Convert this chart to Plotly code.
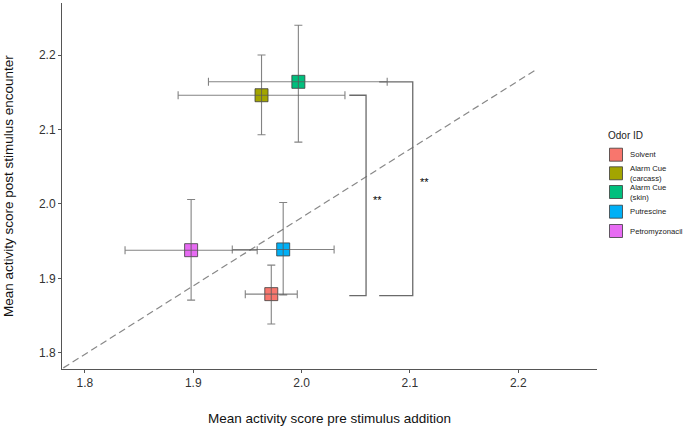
import plotly.graph_objects as go

# ---- data ----
odor_names = ["Solvent", "Alarm Cue (carcass)", "Alarm Cue (skin)", "Putrescine", "Petromyzonacil"]
legend_labels = ["Solvent", "Alarm Cue<br>(carcass)", "Alarm Cue<br>(skin)", "Putrescine", "Petromyzonacil"]
colors = ["#F8766D", "#A3A500", "#00BF7D", "#00B0F6", "#E76BF3"]
pre_mean = [1.972, 1.963, 1.997, 1.983, 1.898]
post_mean = [1.879, 2.146, 2.164, 1.939, 1.938]
pre_lo = [1.948, 1.886, 1.914, 1.936, 1.837]
pre_hi = [1.996, 2.040, 2.079, 2.030, 1.959]
post_lo = [1.839, 2.093, 2.083, 1.878, 1.871]
post_hi = [1.918, 2.200, 2.240, 2.002, 2.006]

diag_x = [1.780, 2.216]
diag_y = [1.780, 2.180]

tick_vals = [1.8, 1.9, 2.0, 2.1, 2.2]
tick_text = ["1.8", "1.9", "2.0", "2.1", "2.2"]

# significance brackets: x_left, x_right, y_top, y_bottom, label x, label y
brackets = [
    dict(x0=2.044, x1=2.0595, ytop=2.146, ybot=1.877, lx=2.0705, ly=2.0055, text="**"),
    dict(x0=2.0716, x1=2.1026, ytop=2.164, ybot=1.877, lx=2.1135, ly=2.0297, text="**"),
]

W, H = 685, 429
L, R, T, B = 62, 88, 3, 60
xr = [1.7788, 2.2727]
yr = [1.7785, 2.2698]

fig = go.Figure()

# diagonal dashed reference line
fig.add_trace(go.Scatter(x=diag_x, y=diag_y, mode="lines",
                         line=dict(color="#888888", width=1.2, dash="7px,4px"),
                         showlegend=False, hoverinfo="skip"))

# markers
for i, n in enumerate(odor_names):
    fig.add_trace(go.Scatter(
        x=[pre_mean[i]], y=[post_mean[i]], mode="markers",
        marker=dict(symbol="square", size=13, color=colors[i],
                    line=dict(color="rgba(60,60,60,0.8)", width=1)),
        name=n, showlegend=False))

# error bars drawn on top of markers
for i, n in enumerate(odor_names):
    fig.add_trace(go.Scatter(
        x=[pre_mean[i]], y=[post_mean[i]], mode="markers",
        marker=dict(size=1, opacity=0),
        error_x=dict(type="data", symmetric=False,
                     array=[pre_hi[i] - pre_mean[i]],
                     arrayminus=[pre_mean[i] - pre_lo[i]],
                     color="rgba(90,90,90,0.75)", thickness=1.1, width=4),
        error_y=dict(type="data", symmetric=False,
                     array=[post_hi[i] - post_mean[i]],
                     arrayminus=[post_mean[i] - post_lo[i]],
                     color="rgba(90,90,90,0.75)", thickness=1.1, width=4),
        showlegend=False, hoverinfo="skip"))

shapes = []
annotations = []
for b in brackets:
    path = (f"M {b['x0']},{b['ytop']} L {b['x1']},{b['ytop']} "
            f"L {b['x1']},{b['ybot']} L {b['x0']},{b['ybot']}")
    shapes.append(dict(type="path", path=path, xref="x", yref="y",
                       line=dict(color="#6a6a6a", width=1.3)))
    annotations.append(dict(x=b["lx"], y=b["ly"], xref="x", yref="y", text=b["text"],
                            showarrow=False, font=dict(size=11, color="#000000",
                                                       family="Liberation Sans, Arial")))

# manual legend (pixel positions converted to paper coords)
pw, ph = W - L - R, H - T - B
def px(xp):
    return (xp - L) / pw
def py(yp):
    return (H - B - yp) / ph

annotations.append(dict(x=px(606), y=py(136), xref="paper", yref="paper", text="Odor ID",
                        xanchor="left", yanchor="middle", showarrow=False,
                        font=dict(size=10, color="#222222", family="Liberation Sans, Arial")))
leg_y = [154.7, 173.3, 192.0, 211.7, 231.0]
for i, lab in enumerate(legend_labels):
    yc = leg_y[i]
    shapes.append(dict(type="rect", xref="paper", yref="paper",
                       x0=px(609.5), x1=px(622.5), y0=py(yc + 6.5), y1=py(yc - 6.5),
                       fillcolor=colors[i], line=dict(color="rgba(60,60,60,0.8)", width=1)))
    annotations.append(dict(x=px(628), y=py(yc), xref="paper", yref="paper", text=lab,
                            xanchor="left", yanchor="middle", showarrow=False, align="left",
                            font=dict(size=7.7, color="#222222", family="Liberation Sans, Arial")))

# axis titles
annotations.append(dict(x=0.5, y=py(418), xref="paper", yref="paper",
                        text="Mean activity score pre stimulus addition", showarrow=False,
                        xanchor="center", yanchor="middle",
                        font=dict(size=13.5, color="#111111", family="Liberation Sans, Arial")))
annotations.append(dict(x=px(8), y=0.5, xref="paper", yref="paper",
                        text="Mean activity score post stimulus encounter", showarrow=False,
                        xanchor="center", yanchor="middle", textangle=-90,
                        font=dict(size=13.5, color="#111111", family="Liberation Sans, Arial")))

axis_common = dict(showgrid=False, zeroline=False, showline=True, linecolor="#555555",
                   linewidth=1, ticks="outside", ticklen=3, tickcolor="#555555",
                   tickwidth=1, tickvals=tick_vals, ticktext=tick_text,
                   tickfont=dict(size=12, color="#333333", family="Liberation Sans, Arial"))

fig.update_layout(
    width=W, height=H,
    margin=dict(l=L, r=R, t=T, b=B),
    plot_bgcolor="white", paper_bgcolor="white",
    xaxis=dict(range=xr, **axis_common),
    yaxis=dict(range=yr, **axis_common),
    shapes=shapes, annotations=annotations,
    showlegend=False,
)

fig.write_html("out.html",
               config={"displayModeBar": False},
               post_script="document.body.style.margin='0';document.body.style.overflow='hidden';")
